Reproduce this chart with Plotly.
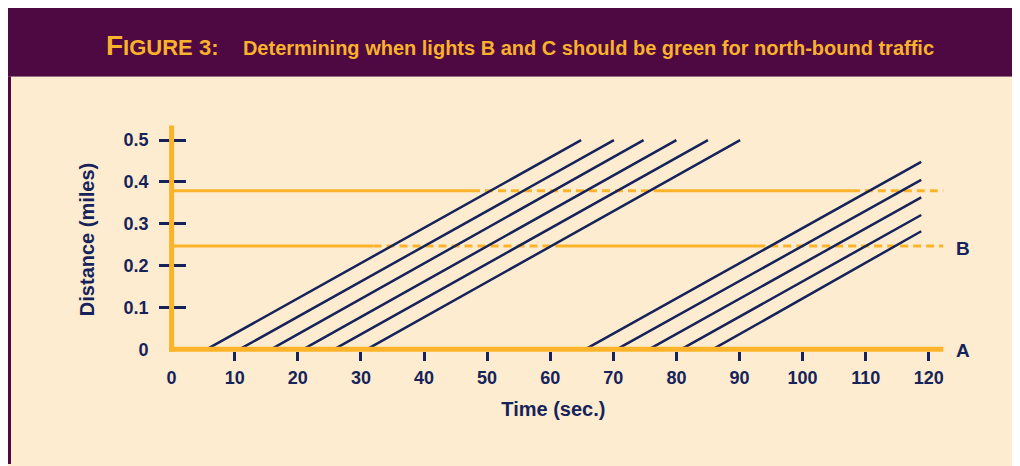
import plotly.graph_objects as go

# ---------------- data ----------------
TIME_TICKS = [0, 10, 20, 30, 40, 50, 60, 70, 80, 90, 100, 110, 120]
TIME_TICK_LABELS = ["0", "10", "20", "30", "40", "50", "60", "70", "80", "90", "100", "110", "120"]
DIST_TICKS = [0, 0.1, 0.2, 0.3, 0.4, 0.5]
DIST_TICK_LABELS = ["0", "0.1", "0.2", "0.3", "0.4", "0.5"]

# first platoon of north-bound vehicles (time at A, time at top, distance at top)
GROUP1_START_T = [5.6, 10.8, 15.8, 20.9, 25.8, 31.0]
GROUP1_END_T = [64.9, 70.1, 74.8, 80.0, 85.0, 90.1]
GROUP1_END_D = [0.5, 0.5, 0.5, 0.5, 0.5, 0.5]

# second platoon
GROUP2_START_T = [65.6, 70.6, 75.7, 80.8, 85.8]
GROUP2_END_T = [118.8, 118.8, 118.8, 118.8, 118.8]
GROUP2_END_D = [0.448, 0.405, 0.363, 0.321, 0.282]

# traffic lights: distance and phase break times (solid = red, dashed = green)
LIGHT_C_DIST = 0.379
LIGHT_C_BREAKS = [0, 47.6, 76.4, 107.8, 122.3]
LIGHT_B_DIST = 0.247
LIGHT_B_BREAKS = [0, 32.0, 60.8, 92.8, 122.3]
PHASE_STYLES = ["solid", "dash", "solid", "dash"]

LIGHT_LABELS = ["B", "A"]

X_AXIS_END = 122.3
Y_AXIS_TOP = 0.535

# ---------------- style ----------------
OFF = 8                      # page body margin of the html output
W, H = 1020, 466 - OFF
PURPLE = "#4e0942"
CREAM = "#fdecd0"
ORANGE = "#fbb42a"
TITLE_ORANGE = "#f9b22b"
NAVY = "#16235a"
FONT = "Liberation Sans, Arial, sans-serif"


def px(x):
    return (x - OFF) / W


def py(y):
    return 1 - (y - OFF) / H


PX_PER_SEC = 6.31
X0_PX = 171.6
X_RANGE = [-3, 124]
PX_PER_MILE = 420.0
Y0_PX = 350.7
Y_RANGE = [-0.02, 0.545]

x_dom = [px(X0_PX + X_RANGE[0] * PX_PER_SEC), px(X0_PX + X_RANGE[1] * PX_PER_SEC)]
y_dom = [py(Y0_PX - Y_RANGE[0] * PX_PER_MILE), py(Y0_PX - Y_RANGE[1] * PX_PER_MILE)]

fig = go.Figure()

# light phases
for dist, breaks in ((LIGHT_C_DIST, LIGHT_C_BREAKS), (LIGHT_B_DIST, LIGHT_B_BREAKS)):
    for i, style in enumerate(PHASE_STYLES):
        fig.add_trace(go.Scatter(
            x=[breaks[i], breaks[i + 1]], y=[dist, dist], mode="lines",
            line=dict(color=ORANGE, width=3, dash="solid" if style == "solid" else "8px,5px"),
            hoverinfo="skip", showlegend=False))

# vehicle trajectories
for starts, ends, dists in ((GROUP1_START_T, GROUP1_END_T, GROUP1_END_D),
                            (GROUP2_START_T, GROUP2_END_T, GROUP2_END_D)):
    for s, e, d in zip(starts, ends, dists):
        fig.add_trace(go.Scatter(
            x=[s, e], y=[0, d], mode="lines",
            line=dict(color=NAVY, width=2.5),
            hoverinfo="skip", showlegend=False))

# carrier trace for tick-only overlay axes
fig.add_trace(go.Scatter(x=[None], y=[None], xaxis="x2", yaxis="y2",
                         showlegend=False, hoverinfo="skip"))

shapes = [
    dict(type="rect", xref="paper", yref="paper", x0=px(4), x1=1, y0=py(77), y1=1,
         fillcolor=PURPLE, line=dict(width=0), layer="below"),
    dict(type="rect", xref="paper", yref="paper", x0=px(11), x1=1, y0=0, y1=py(77),
         fillcolor=CREAM, line=dict(width=0), layer="below"),
    dict(type="rect", xref="paper", yref="paper", x0=0, x1=px(11), y0=0, y1=py(77),
         fillcolor=PURPLE, line=dict(width=0), layer="below"),
    # axis lines
    dict(type="line", xref="x", yref="y", x0=-0.4, x1=X_AXIS_END, y0=0, y1=0,
         line=dict(color=ORANGE, width=5), layer="above"),
    dict(type="line", xref="x", yref="y", x0=0, x1=0, y0=-0.006, y1=Y_AXIS_TOP,
         line=dict(color=ORANGE, width=5), layer="above"),
]

annotations = [
    dict(xref="paper", yref="paper", x=px(104), y=py(46), xanchor="left", yanchor="middle",
         showarrow=False,
         text="<span style='font-size:28px'>F</span>IGURE 3:&nbsp;&nbsp;&nbsp;&nbsp;"
              "<span style='font-size:20px'>Determining when lights B and C should be green for north-bound traffic</span>",
         font=dict(family=FONT, size=22, color=TITLE_ORANGE, weight="bold")),
]
for lab, ypx in zip(LIGHT_LABELS, [250, 352]):
    annotations.append(dict(xref="paper", yref="paper", x=px(963), y=py(ypx), text=lab,
                            showarrow=False, xanchor="center", yanchor="middle",
                            font=dict(family=FONT, size=19, color=NAVY, weight="bold")))

tickfont = dict(family=FONT, size=18, color=NAVY, weight="bold")
titlefont = dict(family=FONT, size=20, color=NAVY, weight="bold")

fig.update_layout(
    width=W, height=H,
    margin=dict(l=0, r=0, t=0, b=0),
    paper_bgcolor=CREAM, plot_bgcolor="rgba(0,0,0,0)",
    showlegend=False,
    shapes=shapes, annotations=annotations,
    xaxis=dict(domain=x_dom, range=X_RANGE, anchor="free", position=py(Y0_PX),
               tickmode="array", tickvals=TIME_TICKS, ticktext=TIME_TICK_LABELS,
               ticks="", showgrid=False, zeroline=False, showline=False,
               tickfont=tickfont, ticklabelstandoff=16,
               title=dict(text="Time (sec.)", font=titlefont, standoff=14)),
    xaxis2=dict(domain=x_dom, range=X_RANGE, overlaying="x", anchor="free",
                position=py(353), tickmode="array", tickvals=TIME_TICKS[1:],
                ticks="outside", ticklen=9, tickwidth=3, tickcolor=NAVY,
                showticklabels=False, showgrid=False, zeroline=False, showline=False),
    yaxis=dict(domain=y_dom, range=Y_RANGE, anchor="free", position=px(X0_PX),
               tickmode="array", tickvals=DIST_TICKS, ticktext=DIST_TICK_LABELS,
               ticks="", showgrid=False, zeroline=False, showline=False,
               tickfont=tickfont, ticklabelstandoff=23,
               title=dict(text="Distance (miles)", font=titlefont, standoff=22)),
    yaxis2=dict(domain=y_dom, range=Y_RANGE, overlaying="y", anchor="free", side="left",
                position=px(186), tickmode="array", tickvals=DIST_TICKS[1:],
                ticks="outside", ticklen=27, tickwidth=3, tickcolor=NAVY,
                showticklabels=False, showgrid=False, zeroline=False, showline=False),
)

fig.write_html("out.html")
